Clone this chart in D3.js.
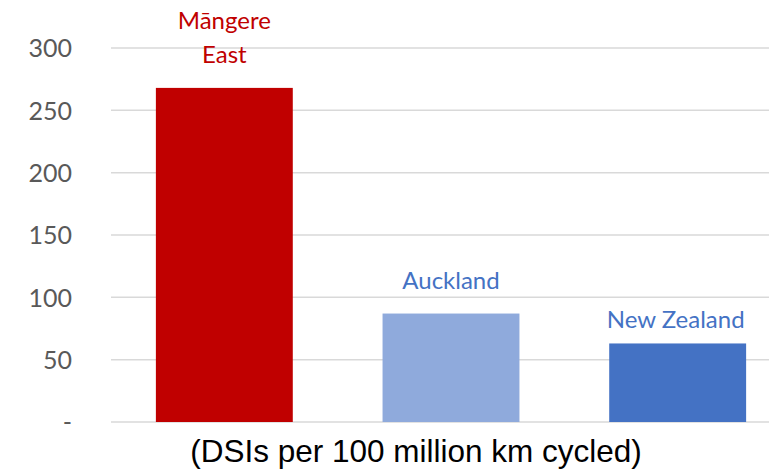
<!DOCTYPE html>
<html>
<head>
<meta charset="utf-8">
<script src="https://cdn.jsdelivr.net/npm/d3@7"></script>
<style>
  body { margin: 0; background: #fff; }
</style>
</head>
<body>
<div id="chart"></div>
<script>
// data
var categories = ["Māngere East", "Auckland", "New Zealand"]
var labelLines = [["Māngere", "East"], ["Auckland"], ["New Zealand"]]
var values = [268, 87, 63]
var barColors = ["#c00000", "#8faadc", "#4472c4"]
var labelColors = ["#c00000", "#4472c4", "#4472c4"]
var yTicks = [0, 50, 100, 150, 200, 250, 300]
var yTickLabels = ["-", "50", "100", "150", "200", "250", "300"]
var caption = "(DSIs per 100 million km cycled)"

var width = 769
var height = 471

var svg = d3.select('#chart').append('svg')
            .attr('width', width)
            .attr('height', height)

var x = d3.scaleBand()
          .domain(categories)
          .range([111, 791])
          .paddingInner(0.396)
          .paddingOuter(0.198)

var y = d3.scaleLinear()
          .domain([0, 300])
          .range([422, 48])

// gridlines
svg.append('g')
   .selectAll('line')
   .data(yTicks)
   .enter().append('line')
   .attr('x1', 111)
   .attr('x2', width)
   .attr('y1', function(d) { return y(d) })
   .attr('y2', function(d) { return y(d) })
   .attr('stroke', '#d9d9d9')
   .attr('stroke-width', 1.5)

// y axis labels
var yAxis = d3.axisLeft(y)
              .tickValues(yTicks)
              .tickFormat(function(d, i) { return yTickLabels[i] })
              .tickSize(0)
              .tickPadding(0)

var ya = svg.append('g')
            .attr('transform', 'translate(72,0)')
            .call(yAxis)
ya.select('.domain').remove()
ya.selectAll('text')
  .attr('font-family', 'Lato, "Open Sans", sans-serif')
  .attr('font-size', 25)
  .attr('fill', '#595959')
  .attr('dy', '0.35em')

// bars
svg.append('g')
   .selectAll('rect')
   .data(values)
   .enter().append('rect')
   .attr('x', function(d, i) { return x(categories[i]) })
   .attr('width', x.bandwidth())
   .attr('y', function(d) { return y(d) })
   .attr('height', function(d) { return y(0) - y(d) })
   .attr('fill', function(d, i) { return barColors[i] })

// bar labels, above each bar (NZ one sits a bit closer in the original)
var lineH = 34
var labelGap = [25, 25, 15]
var lbl = svg.append('g')
             .selectAll('text')
             .data(values)
             .enter().append('text')
             .attr('text-anchor', 'middle')
             .attr('font-family', 'Lato, "Open Sans", sans-serif')
             .attr('font-size', 24)
             .attr('fill', function(d, i) { return labelColors[i] })
             .attr('transform', function(d, i) {
               var n = labelLines[i].length
               return 'translate(' + (x(categories[i]) + x.bandwidth() / 2 - (i === 2 ? 2 : 0)) + ',' +
                      (y(d) - labelGap[i] - (n - 1) * lineH) + ')'
             })

lbl.selectAll('tspan')
   .data(function(d, i) { return labelLines[i] })
   .enter().append('tspan')
   .attr('x', 0)
   .attr('dy', function(d, j) { return j === 0 ? 0 : lineH })
   .text(function(d) { return d })

// caption
svg.append('text')
   .attr('x', 416)
   .attr('y', 462)
   .attr('text-anchor', 'middle')
   .attr('font-family', '"Liberation Sans", Arial, sans-serif')
   .attr('font-size', 31.5)
   .attr('fill', '#000')
   .text(caption)
</script>
</body>
</html>
